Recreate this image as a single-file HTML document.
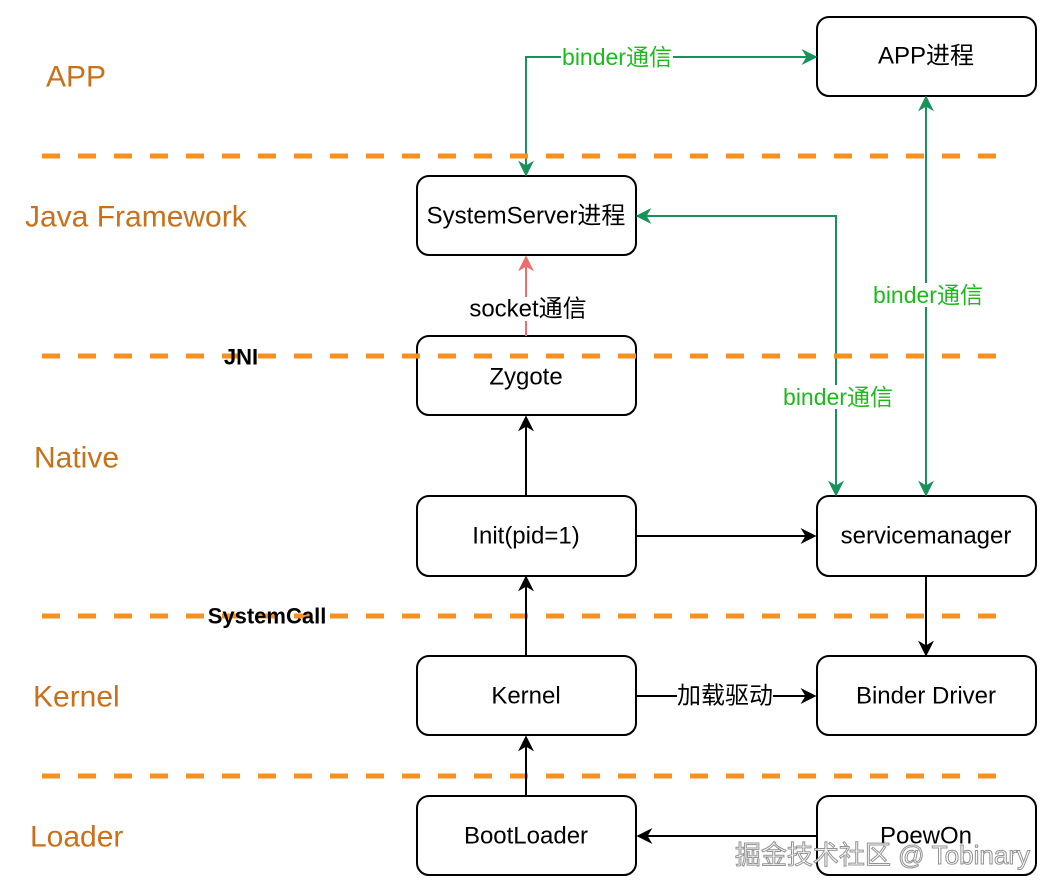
<!DOCTYPE html>
<html><head><meta charset="utf-8"><style>
html,body{margin:0;padding:0;background:#fff}
svg{display:block}
text{font-family:"Liberation Sans","Noto Sans CJK SC",sans-serif}
</style></head><body>
<svg width="1054" height="894" viewBox="0 0 1054 894" xmlns="http://www.w3.org/2000/svg">
<defs>
<marker id="ab" viewBox="0 0 10 10" refX="9" refY="5" markerWidth="16" markerHeight="16" orient="auto-start-reverse" markerUnits="userSpaceOnUse"><path d="M0,0 L10,5 L0,10 L3,5 z" fill="#000"/></marker>
<marker id="ag" viewBox="0 0 10 10" refX="9" refY="5" markerWidth="16" markerHeight="16" orient="auto-start-reverse" markerUnits="userSpaceOnUse"><path d="M0,0 L10,5 L0,10 L3,5 z" fill="#15935a"/></marker>
<marker id="ar" viewBox="0 0 10 10" refX="9" refY="5" markerWidth="16" markerHeight="16" orient="auto-start-reverse" markerUnits="userSpaceOnUse"><path d="M0,0 L10,5 L0,10 L3,5 z" fill="#f06c6c"/></marker>
</defs>
<style>
.b{fill:#fff;stroke:#000;stroke-width:2}
.d{stroke:#f7901e;stroke-width:5;stroke-dasharray:18 18}
.t{font-size:24px;fill:#000;text-anchor:middle;dominant-baseline:central}
.l{font-size:30px;fill:#c8701a;dominant-baseline:central}
.g{font-size:23px;fill:#1cbb1c;text-anchor:middle;dominant-baseline:central}
</style>
<!-- boxes -->
<rect class="b" x="817" y="17" width="219" height="79" rx="12"/>
<rect class="b" x="417" y="176" width="219" height="79" rx="12"/>
<rect class="b" x="417" y="336" width="219" height="79" rx="12"/>
<rect class="b" x="417" y="496" width="219" height="80" rx="12"/>
<rect class="b" x="817" y="496" width="219" height="80" rx="12"/>
<rect class="b" x="417" y="656" width="219" height="79" rx="12"/>
<rect class="b" x="817" y="656" width="219" height="79" rx="12"/>
<rect class="b" x="417" y="796" width="219" height="79" rx="12"/>
<rect class="b" x="817" y="796" width="219" height="79" rx="12"/>
<!-- green connectors -->
<path d="M526,175 L526,57 L816,57" fill="none" stroke="#15935a" stroke-width="2" marker-start="url(#ag)" marker-end="url(#ag)"/>
<rect x="561" y="45" width="112" height="24" fill="#fff"/>
<text class="g" x="617" y="57">binder通信</text>
<path d="M637,216 L836,216 L836,495" fill="none" stroke="#15935a" stroke-width="2" marker-start="url(#ag)" marker-end="url(#ag)"/>
<rect x="782" y="385" width="113" height="24" fill="#fff"/>
<text class="g" x="838" y="397">binder通信</text>
<path d="M926,97 L926,495" fill="none" stroke="#15935a" stroke-width="2" marker-start="url(#ag)" marker-end="url(#ag)"/>
<rect x="872" y="283" width="113" height="24" fill="#fff"/>
<text class="g" x="928" y="295">binder通信</text>
<!-- red socket -->
<path d="M526,336 L526,257" fill="none" stroke="#f06c6c" stroke-width="2" marker-end="url(#ar)"/>
<rect x="468" y="297" width="120" height="24" fill="#fff"/>
<text class="t" x="528" y="309">socket通信</text>
<!-- dashed lines -->
<line class="d" x1="42" y1="156" x2="1000" y2="156"/>
<line class="d" x1="42" y1="356" x2="1000" y2="356"/>
<line class="d" x1="42" y1="616" x2="1000" y2="616"/>
<line class="d" x1="42" y1="776" x2="1000" y2="776"/>
<!-- box text -->
<text class="t" x="926" y="56">APP进程</text>
<text class="t" x="526" y="216">SystemServer进程</text>
<text class="t" x="526" y="377">Zygote</text>
<text class="t" x="526" y="536">Init(pid=1)</text>
<text class="t" x="926" y="536">servicemanager</text>
<text class="t" x="526" y="696">Kernel</text>
<text class="t" x="926" y="696">Binder Driver</text>
<text class="t" x="526" y="836">BootLoader</text>
<text class="t" x="926" y="836">PoewOn</text>
<!-- left labels -->
<text class="l" x="46" y="77">APP</text>
<text class="l" x="25" y="217">Java Framework</text>
<text class="l" x="34" y="458">Native</text>
<text class="l" x="33" y="697">Kernel</text>
<text class="l" x="30" y="837">Loader</text>
<text x="241" y="357" style="font-size:22px;font-weight:bold;text-anchor:middle;dominant-baseline:central">JNI</text>
<text x="267" y="616" style="font-size:22px;font-weight:bold;text-anchor:middle;dominant-baseline:central">SystemCall</text>
<!-- black connectors -->
<path d="M526,495 L526,417" stroke="#000" stroke-width="2" marker-end="url(#ab)"/>
<path d="M526,655 L526,577" stroke="#000" stroke-width="2" marker-end="url(#ab)"/>
<path d="M526,795 L526,737" stroke="#000" stroke-width="2" marker-end="url(#ab)"/>
<path d="M637,536 L815,536" stroke="#000" stroke-width="2" marker-end="url(#ab)"/>
<path d="M926,577 L926,655" stroke="#000" stroke-width="2" marker-end="url(#ab)"/>
<path d="M637,696 L815,696" stroke="#000" stroke-width="2" marker-end="url(#ab)"/>
<rect x="677" y="684" width="96" height="24" fill="#fff"/>
<text class="t" x="725" y="696">加载驱动</text>
<path d="M816,836 L638,836" stroke="#000" stroke-width="2" marker-end="url(#ab)"/>
<!-- watermark -->
<text x="1030" y="855" style="font-size:26px;fill:#fff;stroke:#888;stroke-width:1;text-anchor:end;dominant-baseline:central;opacity:0.9">掘金技术社区 @ Tobinary</text>
</svg>
</body></html>
